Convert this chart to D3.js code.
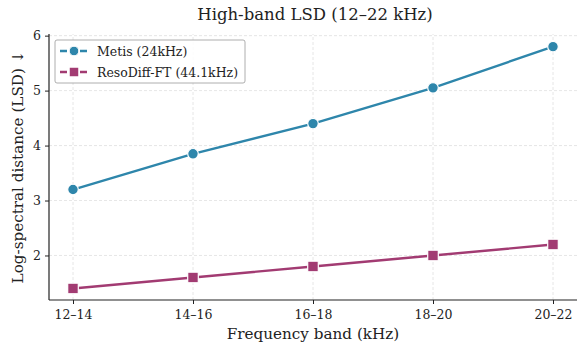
<html>
<head>
  <style>
    body { margin: 0; background: #fff; }
    text { font-family: "DejaVu Serif", serif; fill: #222; }
  </style>
</head>
<body>
<div id="chart"></div>
<script src="https://cdn.jsdelivr.net/npm/d3@7"></script>
<script>
  var bands = ["12–14", "14–16", "16–18", "18–20", "20–22"];
  var metis = [3.2, 3.85, 4.4, 5.05, 5.8];
  var resodiff = [1.4, 1.6, 1.8, 2.0, 2.2];
  var yTicks = [2, 3, 4, 5, 6];

  var series = [
    { name: "Metis (24kHz)", values: metis, color: "#2E86AB", shape: "circle" },
    { name: "ResoDiff-FT (44.1kHz)", values: resodiff, color: "#A23B72", shape: "square" }
  ];

  var W = 582, H = 343;
  var m = { left: 49, right: 5, top: 34, bottom: 43 };

  var svg = d3.select("#chart").append("svg").attr("width", W).attr("height", H);

  var x = d3.scaleLinear().domain([-0.2, bands.length - 0.8]).range([m.left, W - m.right]);
  var y = d3.scaleLinear().domain([1.19, 6.03]).range([H - m.bottom, m.top]);

  // grid
  var grid = svg.append("g");
  grid.selectAll("line.gx").data(bands).enter().append("line")
    .attr("x1", function (d, i) { return x(i); }).attr("x2", function (d, i) { return x(i); })
    .attr("y1", y.range()[0]).attr("y2", y.range()[1])
    .attr("stroke", "#e0e0e0").attr("stroke-width", 0.8).attr("stroke-dasharray", "3,2");
  grid.selectAll("line.gy").data(yTicks).enter().append("line")
    .attr("x1", x.range()[0]).attr("x2", x.range()[1])
    .attr("y1", function (d) { return y(d); }).attr("y2", function (d) { return y(d); })
    .attr("stroke", "#e0e0e0").attr("stroke-width", 0.8).attr("stroke-dasharray", "3,2");

  // axes
  var xAxis = d3.axisBottom(x).tickValues(d3.range(bands.length))
    .tickFormat(function (i) { return bands[i]; }).tickSize(4).tickPadding(6);
  var gx = svg.append("g").attr("transform", "translate(0," + y.range()[0] + ")").call(xAxis);
  var yAxis = d3.axisLeft(y).tickValues(yTicks).tickFormat(d3.format("d")).tickSize(4).tickPadding(4);
  var gy = svg.append("g").attr("transform", "translate(" + x.range()[0] + ",0)").call(yAxis);
  [gx, gy].forEach(function (g) {
    g.selectAll("text").style("font-family", "DejaVu Serif").style("font-size", "12.5px").attr("fill", "#222");
    g.selectAll("line").attr("stroke", "#222");
    g.select(".domain").attr("stroke", "#222").attr("stroke-width", 1.2).attr("d",
      g === gx ? "M" + x.range()[0] + ",0H" + x.range()[1] : "M0," + y.range()[0] + "V" + y.range()[1]);
  });

  // lines and markers
  var line = d3.line().x(function (d, i) { return x(i); }).y(function (d) { return y(d); });
  series.forEach(function (s) {
    svg.append("path").datum(s.values).attr("d", line)
      .attr("fill", "none").attr("stroke", s.color).attr("stroke-width", 2.4);
    var g = svg.append("g");
    if (s.shape === "circle") {
      g.selectAll("circle").data(s.values).enter().append("circle")
        .attr("cx", function (d, i) { return x(i); }).attr("cy", function (d) { return y(d); })
        .attr("r", 5.3).attr("fill", s.color).attr("stroke", "#fff").attr("stroke-width", 1.2);
    } else {
      g.selectAll("rect").data(s.values).enter().append("rect")
        .attr("x", function (d, i) { return x(i) - 5.3; }).attr("y", function (d) { return y(d) - 5.3; })
        .attr("width", 10.6).attr("height", 10.6).attr("fill", s.color).attr("stroke", "#fff").attr("stroke-width", 1.2);
    }
  });

  // legend
  var lg = svg.append("g").attr("transform", "translate(55,40)");
  lg.append("rect").attr("width", 190).attr("height", 43).attr("rx", 2)
    .attr("fill", "#fff").attr("fill-opacity", 0.85).attr("stroke", "#999").attr("stroke-width", 0.8);
  series.forEach(function (s, i) {
    var cy = 11 + i * 21;
    lg.append("line").attr("x1", 5).attr("x2", 33).attr("y1", cy).attr("y2", cy)
      .attr("stroke", s.color).attr("stroke-width", 2.4).attr("stroke-dasharray", "7,3");
    if (s.shape === "circle") {
      lg.append("circle").attr("cx", 19).attr("cy", cy).attr("r", 4.8)
        .attr("fill", s.color).attr("stroke", "#fff").attr("stroke-width", 1);
    } else {
      lg.append("rect").attr("x", 14.2).attr("y", cy - 4.8).attr("width", 9.6).attr("height", 9.6)
        .attr("fill", s.color).attr("stroke", "#fff").attr("stroke-width", 1);
    }
    lg.append("text").attr("x", 42).attr("y", cy + 4.5).style("font-size", "12.5px").text(s.name);
  });

  // titles
  svg.append("text").attr("x", (x.range()[0] + x.range()[1]) / 2 + 2).attr("y", 20)
    .attr("text-anchor", "middle").style("font-size", "16.5px").text("High-band LSD (12–22 kHz)");
  svg.append("text").attr("x", (x.range()[0] + x.range()[1]) / 2).attr("y", 339)
    .attr("text-anchor", "middle").style("font-size", "15.2px").text("Frequency band (kHz)");
  svg.append("text").attr("transform", "translate(23," + ((y.range()[0] + y.range()[1]) / 2) + ") rotate(-90)")
    .attr("text-anchor", "middle").style("font-size", "15.2px").text("Log-spectral distance (LSD) ↓");
</script>
</body>
</html>
